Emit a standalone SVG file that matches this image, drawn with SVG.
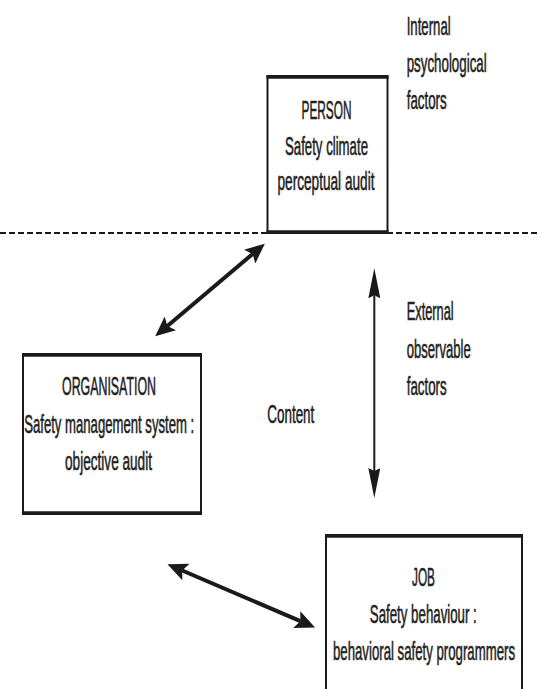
<svg xmlns="http://www.w3.org/2000/svg" width="540" height="689" viewBox="0 0 540 689">
<style>
text{font-family:"Liberation Sans",Arial,sans-serif;font-size:26px;fill:#222;stroke:#222;stroke-width:0.6}
.c{text-anchor:middle}
.box{fill:#fff;stroke:#1a1a1a;stroke-width:2}
.edge{stroke:#1a1a1a;stroke-width:3.5}
.thick{stroke:#1a1a1a;stroke-width:4;fill:none}
.thin{stroke:#1a1a1a;stroke-width:2;fill:none}
</style>
<defs>
<marker id="hb" viewBox="0 0 20 18" refX="4" refY="9" markerWidth="20" markerHeight="18" markerUnits="userSpaceOnUse" orient="auto-start-reverse">
<path d="M0,0 L20,9 L0,18 L4,9 z" fill="#1a1a1a"/>
</marker>
<marker id="hn" viewBox="0 0 30 12" refX="3" refY="6" markerWidth="30" markerHeight="12" markerUnits="userSpaceOnUse" orient="auto-start-reverse">
<path d="M0,0 L30,6 L0,12 L3,6 z" fill="#1a1a1a"/>
</marker>
</defs>
<rect width="540" height="689" fill="#fff"/>
<line x1="0" y1="233" x2="540" y2="233" stroke="#1a1a1a" stroke-width="2" stroke-dasharray="6 3"/>
<g id="person">
<rect class="box" x="267.5" y="76" width="120" height="157"/>
<line class="edge" x1="266.5" y1="77" x2="388.5" y2="77"/>
<line class="edge" x1="266.5" y1="232" x2="388.5" y2="232"/>
<text class="c" x="326.5" y="118.5" textLength="50" lengthAdjust="spacingAndGlyphs">PERSON</text>
<text class="c" x="326.5" y="154.5" textLength="83" lengthAdjust="spacingAndGlyphs">Safety climate</text>
<text class="c" x="326" y="190" textLength="97" lengthAdjust="spacingAndGlyphs">perceptual audit</text>
</g>
<g id="organisation">
<rect class="box" x="23" y="354" width="178" height="160"/>
<line class="edge" x1="22" y1="355" x2="202" y2="355"/>
<line class="edge" x1="22" y1="513" x2="202" y2="513"/>
<text class="c" x="109" y="395" textLength="94" lengthAdjust="spacingAndGlyphs">ORGANISATION</text>
<text class="c" x="109.2" y="433" textLength="170" lengthAdjust="spacingAndGlyphs">Safety management system :</text>
<text class="c" x="108.5" y="470" textLength="87" lengthAdjust="spacingAndGlyphs">objective audit</text>
</g>
<g id="job">
<rect class="box" x="326" y="535" width="196" height="170"/>
<line class="edge" x1="325" y1="536" x2="523" y2="536"/>
<text class="c" x="423.5" y="586" textLength="23" lengthAdjust="spacingAndGlyphs">JOB</text>
<text class="c" x="423.3" y="623" textLength="107" lengthAdjust="spacingAndGlyphs">Safety behaviour :</text>
<text class="c" x="424" y="660" textLength="182" lengthAdjust="spacingAndGlyphs">behavioral safety programmers</text>
</g>
<g id="labels">
<text x="406.7" y="35" textLength="44" lengthAdjust="spacingAndGlyphs">Internal</text>
<text x="406.7" y="72" textLength="80" lengthAdjust="spacingAndGlyphs">psychological</text>
<text x="406.7" y="109" textLength="40" lengthAdjust="spacingAndGlyphs">factors</text>
<text x="406.7" y="320" textLength="47" lengthAdjust="spacingAndGlyphs">External</text>
<text x="406.7" y="358" textLength="64" lengthAdjust="spacingAndGlyphs">observable</text>
<text x="406.7" y="395" textLength="40" lengthAdjust="spacingAndGlyphs">factors</text>
<text x="267.3" y="423" textLength="47" lengthAdjust="spacingAndGlyphs">Content</text>
</g>
<g id="connectors">
<line class="thick" x1="252.6" y1="254" x2="167.4" y2="326" marker-start="url(#hb)" marker-end="url(#hb)"/>
<line class="thick" x1="182.2" y1="570.5" x2="300.4" y2="621.2" marker-start="url(#hb)" marker-end="url(#hb)"/>
<line class="thin" x1="374.3" y1="295.3" x2="374.3" y2="471" marker-start="url(#hn)" marker-end="url(#hn)"/>
</g>
</svg>
